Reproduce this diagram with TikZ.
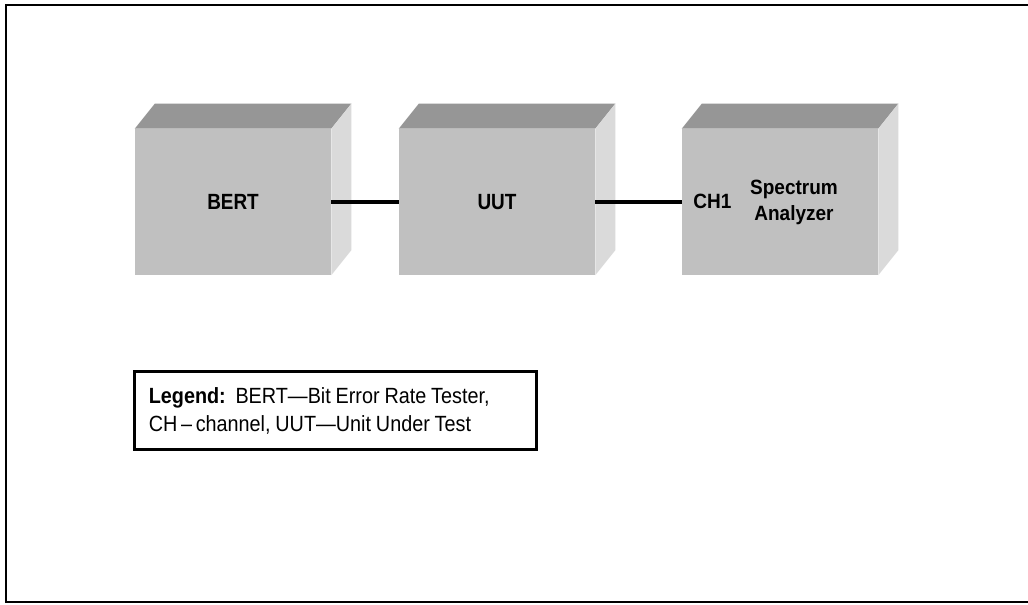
\documentclass[tikz,border=0pt]{standalone}
\usepackage{fontspec}
\setmainfont{Liberation Sans}
\newfontfamily\condfont[FakeStretch=0.86]{Liberation Sans}
\newfontfamily\semicondfont[FakeStretch=0.92]{Liberation Sans}
\newfontfamily\legendfont[FakeStretch=0.9]{Liberation Sans}
\newcommand{\legendspacing}{\spaceskip=0.22em plus 0.05em\relax}
\usetikzlibrary{calc}
\definecolor{frontgray}{RGB}{192,192,192}
\definecolor{topgray}{RGB}{150,150,150}
\definecolor{sidegray}{RGB}{218,218,218}
\tikzset{
  frontface/.style={fill=frontgray, draw=none, minimum width=147pt, minimum height=109.5pt, inner sep=0pt},
  boxlabel/.style={font=\condfont\bfseries\fontsize{16.5}{19}\selectfont, text=black},
  smalllabel/.style={font=\semicondfont\bfseries\fontsize{15.5}{19.5}\selectfont, text=black, inner sep=0pt, align=center},
  conn/.style={line width=3pt, black},
  legendbox/.style={draw=black, line width=2.25pt, minimum width=302pt, minimum height=59pt, text width=280pt, inner xsep=10pt, align=left, font=\legendfont\fontsize{16.5}{21}\selectfont},
  frame/.style={line width=1.5pt, black}
}
\newcommand{\boxthreed}[1]{%
  \fill[topgray] (#1.north west) -- ++(20,-25) -- ($(#1.north east)+(20,-25)$) -- (#1.north east) -- cycle;
  \fill[sidegray] (#1.north east) -- ++(20,-25) -- ($(#1.south east)+(20,-25)$) -- (#1.south east) -- cycle;
}
\begin{document}
\begin{tikzpicture}[x=0.75pt,y=-0.75pt]
\useasboundingbox (0,0) rectangle (1028,605);
\fill[white] (0,0) rectangle (1028,605);
\draw[frame] (1028,5.5) -- (6,5.5) -- (6,602) -- (1028,602);

\node[frontface, boxlabel] (bert) at (233,202) {BERT};
\node[frontface, boxlabel] (uut) at (497,202) {UUT};
\node[frontface] (sa) at (780,202) {};
\boxthreed{bert}
\boxthreed{uut}
\boxthreed{sa}

\node[smalllabel] (ch) at (712.5,201.5) {CH1};
\node[smalllabel] (salabel) at (794,202) {Spectrum\\Analyzer};

\draw[conn] (bert.east) -- (uut.west);
\draw[conn] (uut.east) -- (sa.west);

\node[legendbox] (legend) at (335.5,410.5) {\legendspacing{\bfseries Legend:}\ \ BERT—Bit Error Rate Tester,\\\legendspacing CH\,–\,channel, UUT—Unit Under Test};
\end{tikzpicture}
\end{document}
